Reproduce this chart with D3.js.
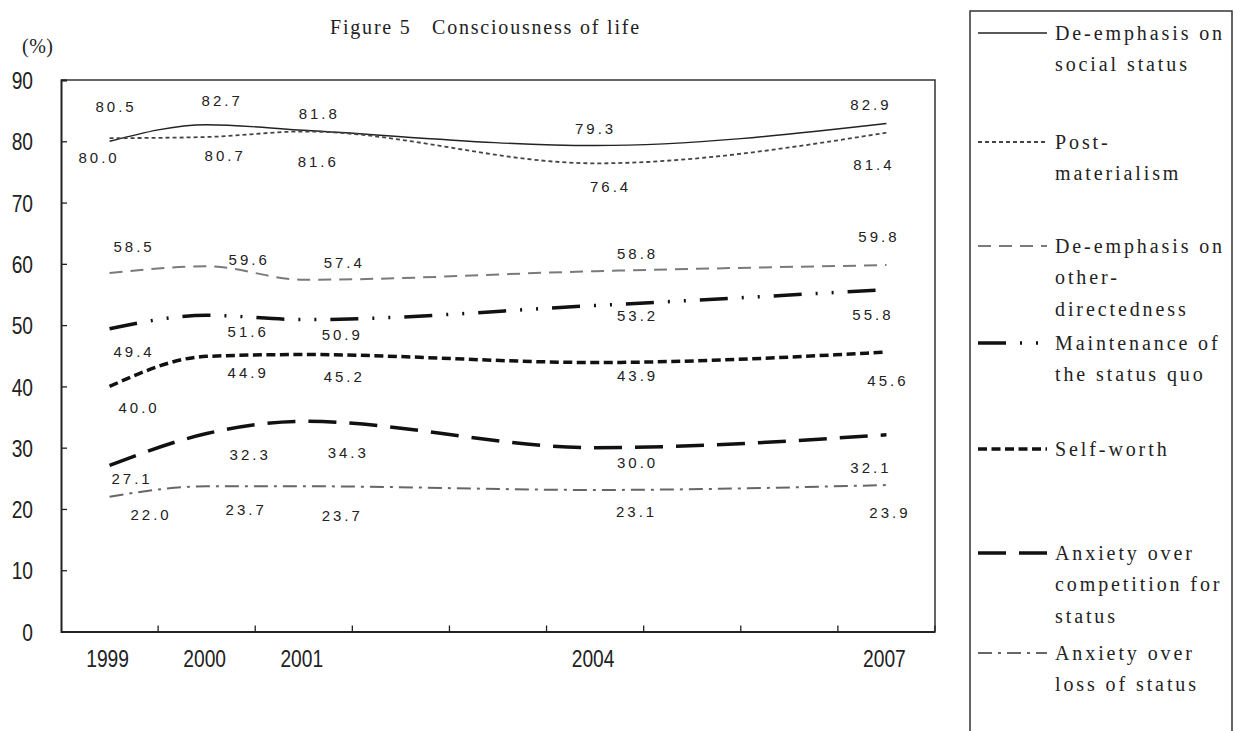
<!DOCTYPE html>
<html>
<head>
<meta charset="utf-8">
<script src="https://cdn.jsdelivr.net/npm/d3@7/dist/d3.min.js"></script>
<style>
  html, body { margin: 0; padding: 0; background: #ffffff; }
  svg { display: block; }
</style>
</head>
<body>
<svg id="chart" width="1237" height="731"></svg>
<script>
// ---------------- DATA ----------------
const years = ["1999", "2000", "2001", "2002", "2003", "2004", "2005", "2006", "2007"];
const yearLabels = ["1999", "2000", "2001", "", "", "2004", "", "", "2007"];
const dataYears = ["1999", "2000", "2001", "2004", "2007"];
const yTicks = [0, 10, 20, 30, 40, 50, 60, 70, 80, 90];

const seriesNames = [
  "De-emphasis on social status",
  "Post-materialism",
  "De-emphasis on other-directedness",
  "Maintenance of the status quo",
  "Self-worth",
  "Anxiety over competition for status",
  "Anxiety over loss of status"
];
const deEmphasisSocial   = [80.0, 82.7, 81.8, 79.3, 82.9];
const postMaterialism    = [80.5, 80.7, 81.6, 76.4, 81.4];
const deEmphasisOther    = [58.5, 59.6, 57.4, 58.8, 59.8];
const maintenanceQuo     = [49.4, 51.6, 50.9, 53.2, 55.8];
const selfWorth          = [40.0, 44.9, 45.2, 43.9, 45.6];
const anxietyCompetition = [27.1, 32.3, 34.3, 30.0, 32.1];
const anxietyLoss        = [22.0, 23.7, 23.7, 23.1, 23.9];

const legendLines = [
  ["De-emphasis on", "social status"],
  ["Post-", "materialism"],
  ["De-emphasis on", "other-", "directedness"],
  ["Maintenance of", "the status quo"],
  ["Self-worth"],
  ["Anxiety over", "competition for", "status"],
  ["Anxiety over", "loss of status"]
];

// ---------------- LAYOUT / STYLE ----------------
const allValues = [deEmphasisSocial, postMaterialism, deEmphasisOther, maintenanceQuo,
                   selfWorth, anxietyCompetition, anxietyLoss];
const styles = [
  { color: "#222", width: 1.4, dash: null },
  { color: "#444", width: 1.8, dash: "4,3" },
  { color: "#7a7a7a", width: 2, dash: "13,8" },
  { color: "#111", width: 3.5, dash: "28,14,2,14,2,14" },
  { color: "#111", width: 3.5, dash: "9,4.5" },
  { color: "#111", width: 3.5, dash: "28,13" },
  { color: "#666", width: 2, dash: "14,6,3,6" }
];
// label offsets [dx, dy] from each point (label centre)
const labelOffsets = [
  [[-12, 16], [14, -24], [14, -17], [-1, -17], [-17, -19]],
  [[5, -32], [17, 19], [13, 30], [14, 23], [-14, 32]],
  [[23, -26], [41, -7], [39, -17], [41, -18], [-9, -28]],
  [[23, 23], [40, 16], [37, 15], [41, 10], [-15, 25]],
  [[28, 21], [40, 16], [39, 22], [41, 13], [0, 29]],
  [[21, 13], [42, 21], [43, 31], [41, 15], [-17, 33]],
  [[40, 18], [38, 23], [37, 29], [40, 22], [2, 28]]
];
const legendTops = [33, 142, 246, 343, 449, 553, 653];

const plot = { left: 61, right: 935, top: 80, bottom: 631.5 };
const axisFont = "'Liberation Sans', Arial, sans-serif";
const axisScaleX = 0.8;

const svg = d3.select("#chart");

const x = d3.scaleBand().domain(years).range([plot.left, plot.right]).padding(0);
const y = d3.scaleLinear().domain([0, 90]).range([plot.bottom, plot.top]);
const cx = yr => x(yr) + x.bandwidth() / 2;

// frame (top + right)
svg.append("path")
  .attr("d", `M${plot.left},${plot.top}H${plot.right}V${plot.bottom}`)
  .attr("fill", "none").attr("stroke", "#333").attr("stroke-width", 1.5);

// Y axis
const yAxis = d3.axisLeft(y).tickValues(yTicks).tickSize(-6).tickPadding(0)
  .tickFormat(d3.format("d"));
const yg = svg.append("g").attr("transform", `translate(${plot.left},0)`).call(yAxis);
yg.select(".domain").attr("stroke", "#222").attr("stroke-width", 2);
yg.selectAll(".tick line").attr("stroke", "#222").attr("stroke-width", 1.3);
yg.selectAll(".tick text")
  .attr("x", 0)
  .attr("transform", `translate(-28,0) scale(${axisScaleX},1)`)
  .attr("text-anchor", "end")
  .attr("font-family", axisFont)
  .attr("font-size", 24).attr("fill", "#222").attr("dy", "0.36em");

// X axis
const xAxis = d3.axisBottom(x).tickSize(0).tickPadding(0)
  .tickFormat((d, i) => yearLabels[i]);
const xg = svg.append("g").attr("transform", `translate(0,${plot.bottom})`).call(xAxis);
xg.select(".domain").attr("stroke", "#222").attr("stroke-width", 2);
xg.selectAll(".tick text")
  .attr("y", 0).attr("dy", 0)
  .attr("transform", `translate(-2,35) scale(${axisScaleX},1)`)
  .attr("font-family", axisFont)
  .attr("font-size", 24).attr("fill", "#222");
// category boundary ticks
svg.append("g").selectAll("line")
  .data(years.slice(1).concat(["end"]))
  .join("line")
  .attr("x1", d => d === "end" ? plot.right : x(d))
  .attr("x2", d => d === "end" ? plot.right : x(d))
  .attr("y1", plot.bottom).attr("y2", plot.bottom - 6)
  .attr("stroke", "#222").attr("stroke-width", 1.3);

// lines
const line = d3.line()
  .x(d => cx(d.year))
  .y(d => y(d.value))
  .curve(d3.curveMonotoneX);

allValues.forEach((vals, si) => {
  const pts = vals.map((v, i) => ({ year: dataYears[i], value: v }));
  const st = styles[si];
  svg.append("path")
    .datum(pts)
    .attr("d", line)
    .attr("fill", "none")
    .attr("stroke", st.color)
    .attr("stroke-width", st.width)
    .attr("stroke-dasharray", st.dash);
});

// data labels
allValues.forEach((vals, si) => {
  svg.append("g").selectAll("text")
    .data(vals.map((v, i) => ({ year: dataYears[i], value: v, off: labelOffsets[si][i] })))
    .join("text")
    .attr("x", d => cx(d.year) + d.off[0] + 1.5)
    .attr("y", d => y(d.value) + d.off[1])
    .attr("dy", "0.36em")
    .attr("text-anchor", "middle")
    .attr("font-family", "'Liberation Sans', Arial, sans-serif")
    .attr("font-size", 15)
    .attr("letter-spacing", "3px")
    .attr("fill", "#222")
    .text(d => d3.format(".1f")(d.value));
});

// title
svg.append("text")
  .attr("x", 330).attr("y", 34)
  .attr("font-family", "'Liberation Serif', 'Times New Roman', serif")
  .attr("font-size", 20).attr("fill", "#222")
  .attr("letter-spacing", "1.8px")
  .text("Figure 5\u00a0\u00a0\u00a0Consciousness of life");

// (%)
svg.append("text")
  .attr("x", 22).attr("y", 53)
  .attr("font-family", "'Liberation Serif', 'Times New Roman', serif")
  .attr("font-size", 20).attr("fill", "#222")
  .attr("letter-spacing", "0.5px")
  .text("(%)");

// legend
svg.append("rect")
  .attr("x", 970).attr("y", 11).attr("width", 262).attr("height", 760)
  .attr("fill", "none").attr("stroke", "#333").attr("stroke-width", 1.5);

legendLines.forEach((lines, si) => {
  const top = legendTops[si];
  const st = styles[si];
  svg.append("line")
    .attr("x1", 978).attr("x2", 1047)
    .attr("y1", top).attr("y2", top)
    .attr("stroke", st.color)
    .attr("stroke-width", st.width)
    .attr("stroke-dasharray", st.dash);
  svg.append("g").selectAll("text")
    .data(lines)
    .join("text")
    .attr("x", 1055)
    .attr("y", (d, i) => top + i * 31.5)
    .attr("dy", "0.33em")
    .attr("font-family", "'Liberation Serif', 'Times New Roman', serif")
    .attr("font-size", 20)
    .attr("letter-spacing", "2.9px")
    .attr("fill", "#222")
    .text(d => d);
});
</script>
</body>
</html>
